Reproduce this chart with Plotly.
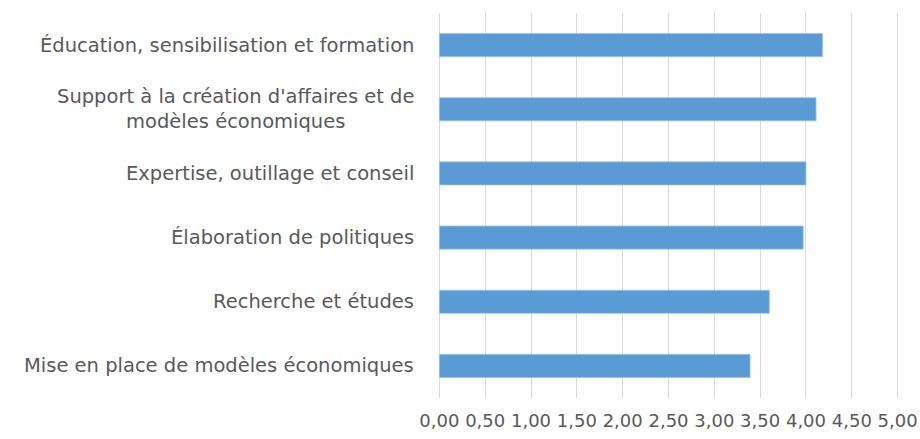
import plotly.graph_objects as go

categories = [
    "Éducation, sensibilisation et formation",
    "Support à la création d'affaires et de<br>modèles économiques",
    "Expertise, outillage et conseil",
    "Élaboration de politiques",
    "Recherche et études",
    "Mise en place de modèles économiques",
]
values = [4.18, 4.11, 4.00, 3.97, 3.60, 3.39]
tick_vals = [0, 0.5, 1, 1.5, 2, 2.5, 3, 3.5, 4, 4.5, 5]
tick_text = ["0,00", "0,50", "1,00", "1,50", "2,00", "2,50", "3,00", "3,50", "4,00", "4,50", "5,00"]

FONT = "DejaVu Sans, sans-serif"
TXT = "#595959"

W, H = 920, 439
X0, X1 = -0.015, 5.015           # small padding so edge gridlines are drawn
PX_PER_UNIT = (897.3 - 439) / 5
ML = 439 + X0 * PX_PER_UNIT
MR = W - (897.3 + (X1 - 5) * PX_PER_UNIT)
MT, MB = 13, 41
PW = W - ML - MR

fig = go.Figure(
    go.Bar(
        x=values,
        y=categories,
        orientation="h",
        width=0.36,
        marker=dict(color="#5B9BD5", line=dict(color="#9DC3E6", width=0.8)),
        hoverinfo="x+y",
    )
)

annotations = [
    dict(
        text=c,
        x=-(439 - ML + 21) / PW,
        xref="paper",
        y=c,
        yref="y",
        xanchor="right",
        yanchor="middle",
        align="center",
        showarrow=False,
        font=dict(family=FONT, size=19.5, color=TXT),
    )
    for c in categories
]

fig.update_layout(
    width=W,
    height=H,
    margin=dict(l=ML, r=MR, t=MT, b=MB, pad=0, autoexpand=False),
    paper_bgcolor="white",
    plot_bgcolor="white",
    showlegend=False,
    annotations=annotations,
    xaxis=dict(
        range=[X0, X1],
        tickvals=tick_vals,
        ticktext=tick_text,
        showgrid=True,
        gridcolor="#D9D9D9",
        gridwidth=1,
        zeroline=False,
        showline=False,
        ticks="",
        automargin=False,
        ticklabelstandoff=10,
        tickfont=dict(family=FONT, size=18, color=TXT),
        fixedrange=True,
    ),
    yaxis=dict(
        categoryorder="array",
        categoryarray=categories[::-1],
        showticklabels=False,
        showgrid=False,
        zeroline=False,
        showline=False,
        automargin=False,
        fixedrange=True,
    ),
)

fig.write_html(
    "out.html",
    config={"displayModeBar": False},
    post_script="document.body.style.margin='0';document.body.style.overflow='hidden';",
)
